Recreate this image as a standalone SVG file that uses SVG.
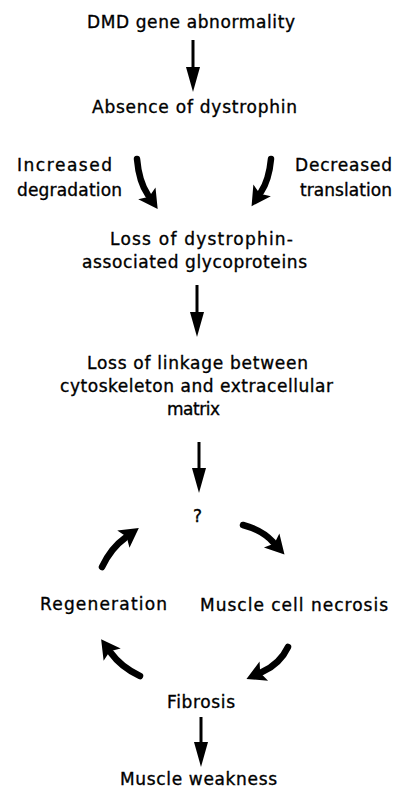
<svg xmlns="http://www.w3.org/2000/svg" width="398" height="788" viewBox="0 0 398 788">
<style>
text{font-family:"DejaVu Sans","Liberation Sans",sans-serif;font-size:17px;fill:#000;stroke:#000;stroke-width:0.35}
.s{stroke:#000;stroke-width:3;fill:none}
.c{stroke:#000;stroke-width:6.5;fill:none;stroke-linecap:round}
</style>
<defs>
<marker id="hs" markerUnits="userSpaceOnUse" markerWidth="26" markerHeight="16" viewBox="0 -8 26 16" refX="0" refY="0" orient="auto">
<path d="M0,-7 L25,0 L0,7 z" fill="#000"/>
</marker>
<marker id="hc" markerUnits="userSpaceOnUse" markerWidth="22" markerHeight="24" viewBox="-2 -12 22 24" refX="2" refY="0" orient="auto">
<path d="M0,-10.5 L19,0 L0,10.5 L4,0 z" fill="#000"/>
</marker>
</defs>
<g id="connectors">
<line class="s" x1="193" y1="40" x2="193" y2="67" marker-end="url(#hs)"/>
<line class="s" x1="197" y1="285" x2="197" y2="312" marker-end="url(#hs)"/>
<line class="s" x1="199" y1="442" x2="199" y2="468" marker-end="url(#hs)"/>
<line class="s" x1="201" y1="717" x2="201" y2="742" marker-end="url(#hs)"/>
<path class="c" d="M137,159 Q139,182 148,195" marker-end="url(#hc)"/>
<path class="c" d="M271,159 Q269,180 261,192" marker-end="url(#hc)"/>
<path class="c" d="M102,567 Q111,548 125,538" marker-end="url(#hc)"/>
<path class="c" d="M243,525 Q262,530 273,542" marker-end="url(#hc)"/>
<path class="c" d="M288,647 Q280,664 262,672" marker-end="url(#hc)"/>
<path class="c" d="M140,676 Q121,667 111,653" marker-end="url(#hc)"/>
</g>
<g id="n-dmd"><text x="87" y="28" textLength="208">DMD gene abnormality</text></g>
<g id="n-absence"><text x="92" y="113" textLength="205">Absence of dystrophin</text></g>
<g id="l-increased"><text x="17" y="171" textLength="95">Increased</text><text x="17" y="196" textLength="105">degradation</text></g>
<g id="l-decreased"><text x="295" y="171" textLength="97">Decreased</text><text x="300" y="196" textLength="92">translation</text></g>
<g id="n-loss-dag"><text x="110" y="245" textLength="183">Loss of dystrophin-</text><text x="82" y="268" textLength="225">associated glycoproteins</text></g>
<g id="n-linkage"><text x="87" y="369" textLength="221">Loss of linkage between</text><text x="60" y="392" textLength="273">cytoskeleton and extracellular</text><text x="167" y="415" textLength="53">matrix</text></g>
<g id="n-q"><text x="193" y="522">?</text></g>
<g id="n-regen"><text x="40" y="610" textLength="127">Regeneration</text></g>
<g id="n-necrosis"><text x="200" y="611" textLength="188">Muscle cell necrosis</text></g>
<g id="n-fibrosis"><text x="167" y="708" textLength="68">Fibrosis</text></g>
<g id="n-weakness"><text x="120" y="785" textLength="157">Muscle weakness</text></g>
</svg>
